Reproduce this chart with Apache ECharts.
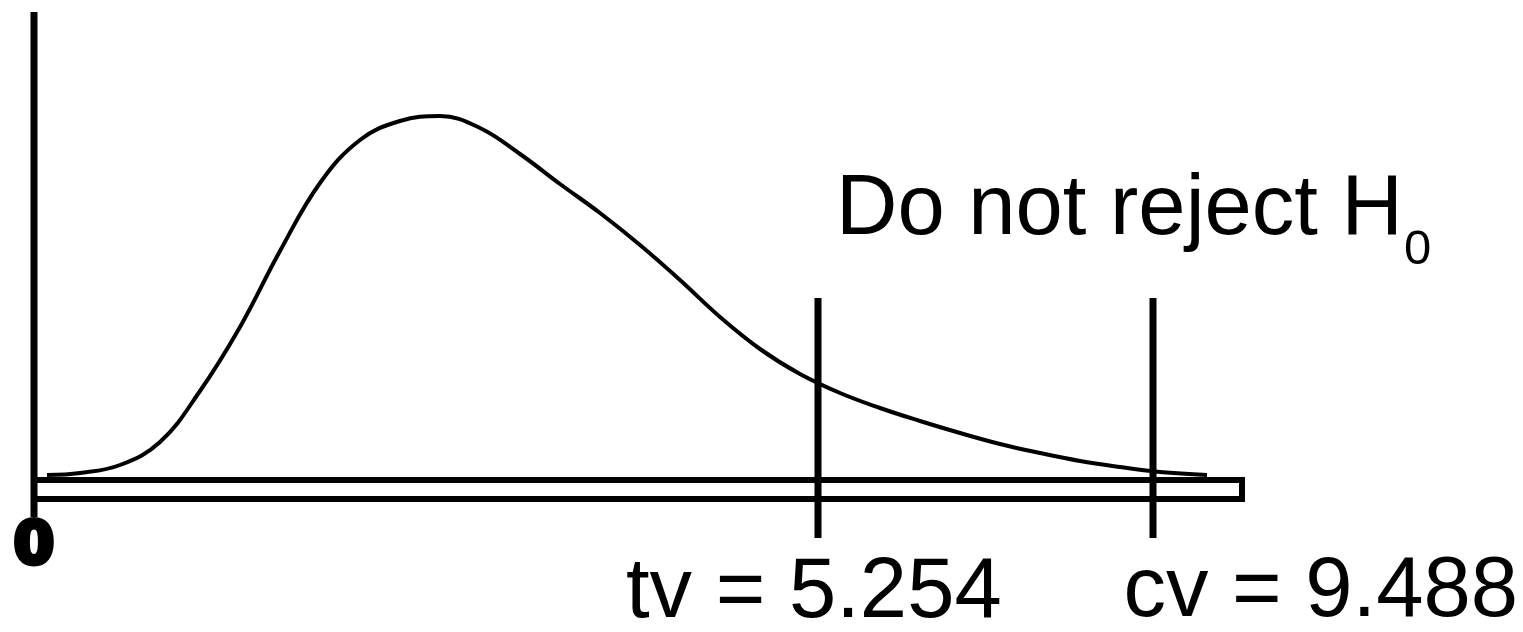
<!DOCTYPE html>
<html>
<head>
<meta charset="utf-8">
<title>Chi-square test sketch</title>
<script src="https://cdn.jsdelivr.net/npm/echarts@6/dist/echarts.min.js"></script>
<style>
    html, body { margin: 0; padding: 0; background: #fff; }
    #chart { width: 1523px; height: 632px; }
</style>
</head>
<body>
<div id="chart"></div>
<script>
// curve (sketch units, not to scale)
const curveX = [1.3, 4.6, 8.6, 12.6, 16.6, 20.6, 24.6, 28.6, 32.6, 36.6, 40.6, 44.6, 48.6, 52.6, 56.6,
    60.6, 64.6, 68.6, 72.6, 76.6, 80.6, 84.6, 88.6, 92.6, 96.6, 100.6, 104.6, 108.6, 112.6, 117.3];
const curveY = [0.5, 0.7, 1.5, 3.8, 8.9, 15.3, 22.9, 29.7, 34.0, 35.9, 36.4, 35.2, 32.6, 29.6, 26.7,
    23.5, 20.0, 16.3, 13.1, 10.6, 8.7, 7.2, 5.9, 4.7, 3.6, 2.7, 1.9, 1.3, 0.8, 0.5];

// test value / critical value markers
const markerX = [78.4, 111.9];
const markerLabels = ['tv = 5.254', 'cv = 9.488'];
const markerTop = 18.2;
const markerBottom = -5.8;

// axis frame
const axisTop = 46.8;
const axisBottom = -3.7;
const barEnd = 120.8;
const barDepth = -1.9;
const zeroLabel = '0';
const regionLabel = 'Do not reject H';
const regionSub = '0';

const FONT = "'Liberation Sans', Arial, sans-serif";

let chart = echarts.init(document.getElementById('chart'), null, { renderer: 'canvas' });

function curveData() {
    let arr = [];
    for (let i = 0; i < curveX.length; i++) {
        arr.push([curveX[i], curveY[i]]);
    }
    return arr;
}

function plainLine(name, data, width) {
    return {
        name: name,
        type: 'line',
        data: data,
        showSymbol: false,
        silent: true,
        animation: false,
        lineStyle: { color: '#000', width: width, cap: 'butt', join: 'miter' }
    };
}

let series = [];

// vertical axis
series.push(plainLine('yaxis', [[0, axisTop], [0, axisBottom]], 7));

// hollow base bar
series.push(plainLine('bar', [[0, 0], [barEnd, 0], [barEnd, barDepth], [0, barDepth]], 6));

// the density curve
let curve = plainLine('curve', curveData(), 4);
curve.smooth = 0.4;
series.push(curve);

for (let i = 0; i < markerX.length; i++) {
    series.push(plainLine(markerLabels[i], [[markerX[i], markerTop], [markerX[i], markerBottom]], 7));
}

chart.setOption({
    backgroundColor: '#fff',
    animation: false,
    grid: { left: 34, right: 279, top: 10, bottom: 92 },
    xAxis: { type: 'value', min: 0, max: 121, show: false },
    yAxis: { type: 'value', min: -6, max: 47, show: false },
    series: series,
    graphic: [
        {
            type: 'text', x: 836, y: 211,
            style: { text: regionLabel, font: '85px ' + FONT, fill: '#000', align: 'left', verticalAlign: 'middle' }
        },
        {
            type: 'text', x: 1404, y: 250,
            style: { text: regionSub, font: '49px ' + FONT, fill: '#000', align: 'left', verticalAlign: 'middle' }
        },
        {
            type: 'text', x: 626, y: 594,
            style: { text: markerLabels[0], font: '85px ' + FONT, fill: '#000', align: 'left', verticalAlign: 'middle' }
        },
        {
            type: 'text', x: 1518, y: 593,
            style: { text: markerLabels[1], font: '85px ' + FONT, fill: '#000', align: 'right', verticalAlign: 'middle' }
        },
        {
            type: 'text', x: 34, y: 548,
            style: {
                text: zeroLabel, font: 'bold 58px "DejaVu Sans", sans-serif', fill: '#000',
                stroke: '#000', lineWidth: 5, align: 'center', verticalAlign: 'middle'
            }
        }
    ]
});
</script>
</body>
</html>
